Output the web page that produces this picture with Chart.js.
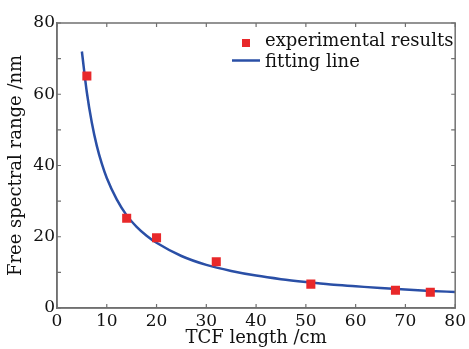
<!DOCTYPE html>
<html>
<head>
<meta charset="utf-8">
<script src="https://cdn.jsdelivr.net/npm/chart.js@4"></script>
<style>
html,body{margin:0;padding:0;background:#fff;}
#wrap{width:469px;height:349px;position:relative;}
</style>
</head>
<body>
<div id="wrap"><canvas id="fsrChart"></canvas></div>
<script>
// measured points
const tcfLength=[6, 14, 20, 32, 51, 68, 75];
const fsrMeasured=[65.1, 25.2, 19.7, 13.0, 6.7, 5.0, 4.4];

// fitted curve
const fitX=[5, 6, 7, 8, 9, 10, 12, 14, 16, 18, 20, 25, 30, 35, 40, 45, 50, 55, 60, 65, 70, 75, 80];
const fitY=[72, 60.5, 52, 45.5, 40.5, 36.5, 30.5, 26, 22.8, 20.3, 18.3, 14.6, 12.1, 10.4, 9.1, 8.1, 7.3, 6.6, 6.1, 5.6, 5.2, 4.8, 4.5];

const xTicks=[0, 10, 20, 30, 40, 50, 60, 70, 80];
const yTicks=[0, 10, 20, 30, 40, 50, 60, 70, 80];

const frameColor='#707070';
const textColor='#111111';

Chart.defaults.font.family="'DejaVu Serif', serif";
Chart.defaults.color=textColor;

// frame on all sides + inward tick marks
const framePlugin={
    id: 'frame',
    afterDatasetsDraw(chart) {
        const {ctx, chartArea: a, scales}=chart;
        ctx.save();
        ctx.strokeStyle=frameColor;
        ctx.lineWidth=1.5;
        ctx.strokeRect(a.left, a.top, a.right - a.left, a.bottom - a.top);
        ctx.lineWidth=1.2;
        ctx.beginPath();
        xTicks.forEach(v=> {
            const px=scales.x.getPixelForValue(v);
            ctx.moveTo(px, a.bottom); ctx.lineTo(px, a.bottom - 4);
            ctx.moveTo(px, a.top); ctx.lineTo(px, a.top + 4);
        });
        yTicks.forEach(v=> {
            const py=scales.y.getPixelForValue(v);
            ctx.moveTo(a.left, py); ctx.lineTo(a.left + 4, py);
            ctx.moveTo(a.right, py); ctx.lineTo(a.right - 4, py);
        });
        ctx.stroke();
        ctx.restore();
    }
};

// legend inside the plot, top right
const insideLegend={
    id: 'insideLegend',
    afterDraw(chart) {
        const ctx=chart.ctx;
        const ds=chart.data.datasets;
        ctx.save();
        ctx.font="18px 'DejaVu Serif', serif";
        ctx.textBaseline='alphabetic';
        ctx.textAlign='left';

        ctx.fillStyle=ds[0].backgroundColor;
        ctx.fillRect(242, 39, 8, 8);
        ctx.fillStyle=textColor;
        ctx.fillText(ds[0].label, 265, 46);

        ctx.strokeStyle=ds[1].borderColor;
        ctx.lineWidth=ds[1].borderWidth;
        ctx.beginPath();
        ctx.moveTo(232, 60.5);
        ctx.lineTo(260, 60.5);
        ctx.stroke();
        ctx.fillText(ds[1].label, 265, 67);
        ctx.restore();
    }
};

const ctx=document.getElementById('fsrChart').getContext('2d');
new Chart(ctx, {
    type: 'scatter',
    data: {
        datasets: [{
            label: 'experimental results',
            data: tcfLength.map((x, i)=> ({x: x, y: fsrMeasured[i]})),
            backgroundColor: '#e8282a',
            borderColor: '#e8282a',
            pointStyle: 'rect',
            pointRadius: 6.4,
            pointBorderWidth: 0
        }, {
            label: 'fitting line',
            data: fitX.map((x, i)=> ({x: x, y: fitY[i]})),
            showLine: true,
            borderColor: '#2a4fa6',
            backgroundColor: '#2a4fa6',
            borderWidth: 2.5,
            pointRadius: 0,
            cubicInterpolationMode: 'monotone'
        }]
    },
    options: {
        responsive: true,
        maintainAspectRatio: false,
        animation: false,
        layout: {
            padding: {top: 23, right: 11, left: 0, bottom: 0}
        },
        plugins: {
            legend: {display: false},
            tooltip: {enabled: false}
        },
        scales: {
            x: {
                type: 'linear',
                min: 0,
                max: 80,
                afterFit: (s)=> { s.height=41; },
                grid: {display: false, drawTicks: false},
                border: {display: true, color: frameColor, width: 1.5},
                ticks: {
                    stepSize: 10,
                    padding: 3,
                    font: {size: 17},
                    color: textColor
                },
                title: {
                    display: true,
                    text: 'TCF length /cm',
                    font: {size: 18, lineHeight: 1.2},
                    padding: {top: 0, bottom: 0},
                    color: textColor
                }
            },
            y: {
                type: 'linear',
                min: 0,
                max: 80,
                afterFit: (s)=> { s.width=57; },
                grid: {display: false, drawTicks: false},
                border: {display: true, color: frameColor, width: 1.5},
                ticks: {
                    stepSize: 10,
                    padding: 2,
                    font: {size: 17},
                    color: textColor,
                    callback: (v)=> (v % 20===0 ? v : '')
                },
                title: {
                    display: true,
                    text: 'Free spectral range /nm',
                    font: {size: 18, lineHeight: 1.2},
                    padding: {top: 6, bottom: 0},
                    color: textColor
                }
            }
        }
    },
    plugins: [framePlugin, insideLegend]
});
</script>
</body>
</html>
